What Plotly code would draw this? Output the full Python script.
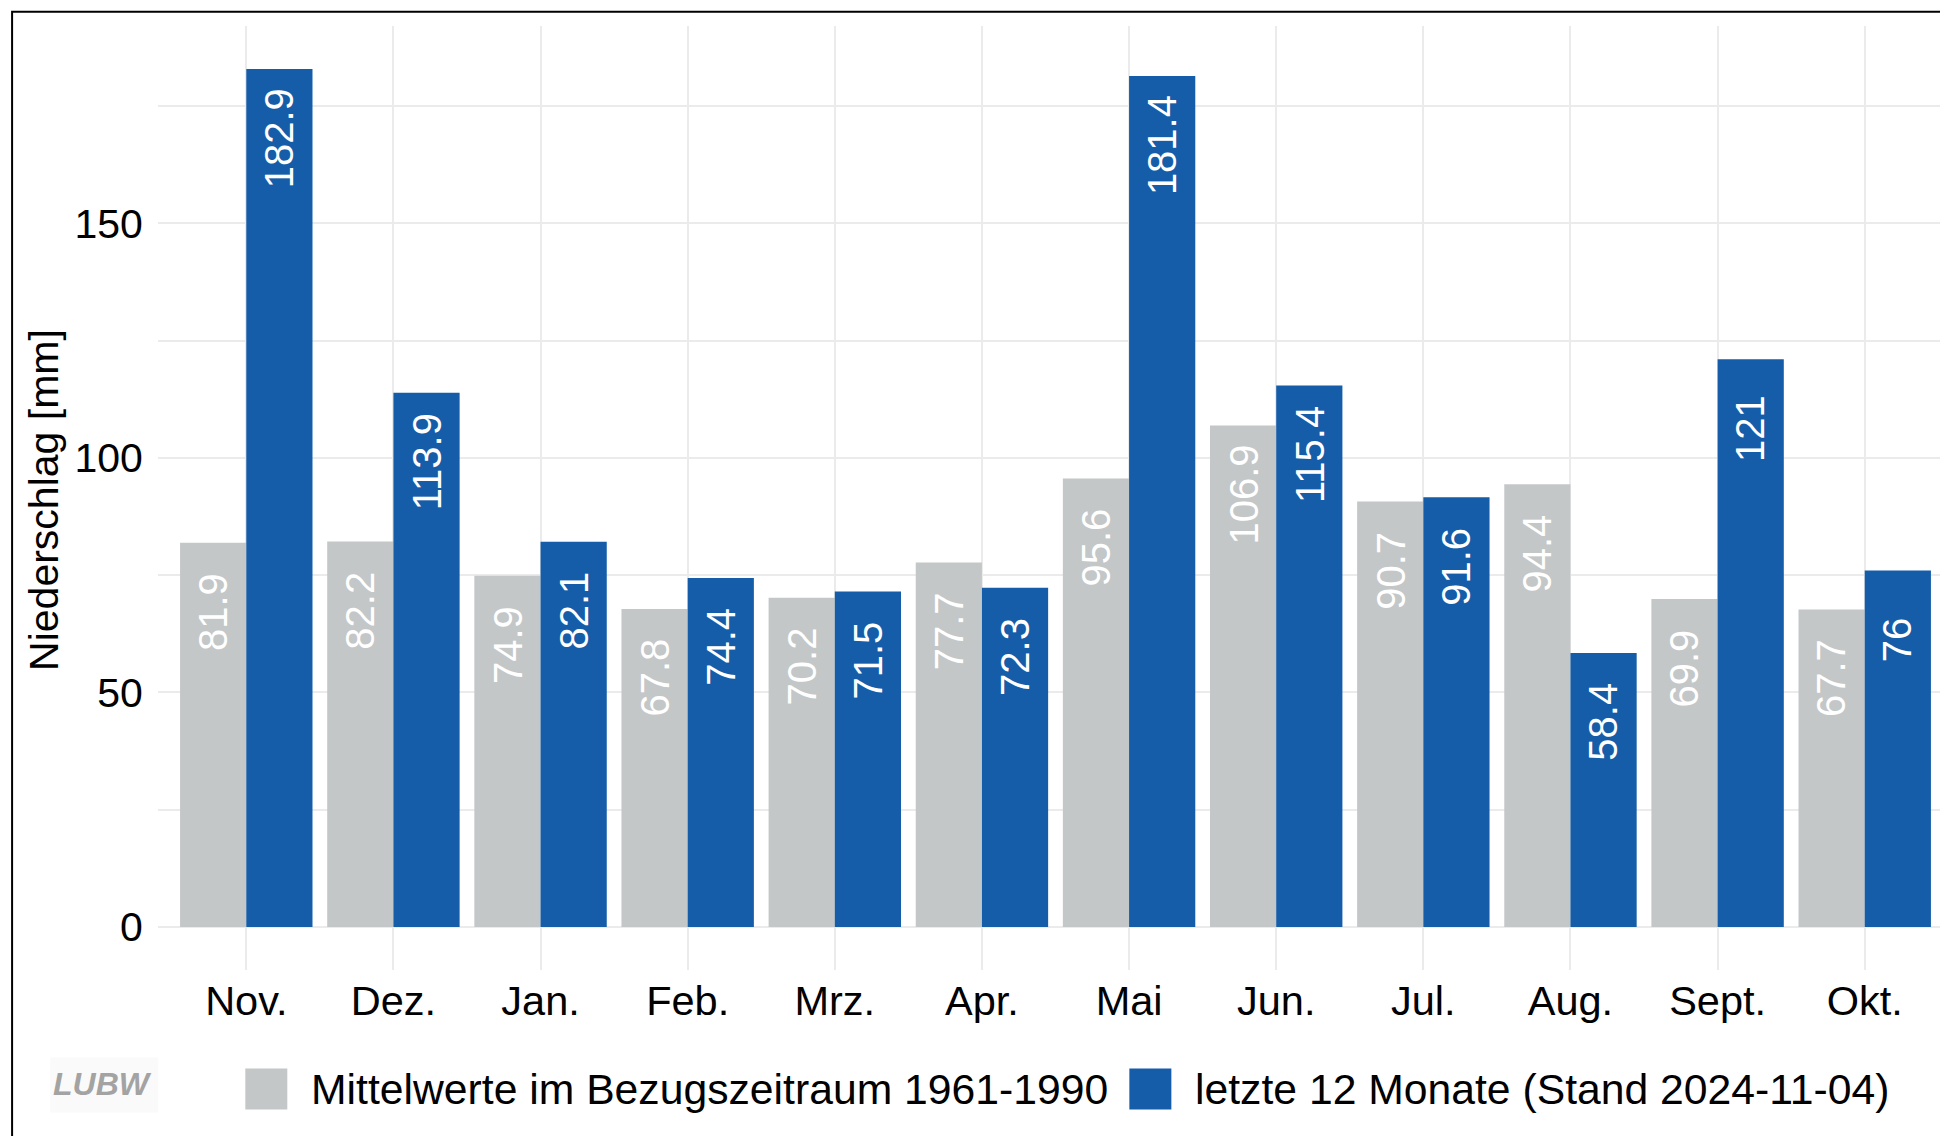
import plotly.graph_objects as go

# ---------------- data ----------------
months = ["Nov.", "Dez.", "Jan.", "Feb.", "Mrz.", "Apr.", "Mai", "Jun.",
          "Jul.", "Aug.", "Sept.", "Okt."]
mean_1961_1990 = [81.9, 82.2, 74.9, 67.8, 70.2, 77.7, 95.6, 106.9, 90.7, 94.4, 69.9, 67.7]
last_12_months = [182.9, 113.9, 82.1, 74.4, 71.5, 72.3, 181.4, 115.4, 91.6, 58.4, 121, 76]
series_names = ["Mittelwerte im Bezugszeitraum 1961-1990",
                "letzte 12 Monate (Stand 2024-11-04)"]
y_ticks = [0, 50, 100, 150]
y_minor_ticks = [25, 75, 125, 175]
y_title = "Niederschlag [mm]"

# ---------------- styling ----------------
W, H = 1948, 1136
GRAY = "#C4C7C8"
BLUE = "#155DA9"
GRID = "#EBEBEB"
FONT = "Liberation Sans, Arial, sans-serif"

OFF = 8           # page body margin: figure is drawn at (8, 8) in the page
L_PX = 157.7 - OFF      # left edge of plot area (figure coords)
R_PX = 1952.6 - OFF     # right edge of plot area
T_PX = 26.1 - OFF       # top edge of plot area
B_PX = 969.6 - OFF      # bottom edge of plot area
PLOT_W = R_PX - L_PX
PLOT_H = B_PX - T_PX


def px_x(p):
    """page pixel x -> paper coordinate"""
    return (p - OFF - L_PX) / PLOT_W


def px_y(p):
    """page pixel y -> paper coordinate"""
    return (B_PX - (p - OFF)) / PLOT_H


ymax = max(max(mean_1961_1990), max(last_12_months))
pad = 0.05 * ymax

fig = go.Figure()
fig.add_trace(go.Bar(x=months, y=mean_1961_1990, name=series_names[0],
                     marker=dict(color=GRAY, line=dict(width=0)), showlegend=False))
fig.add_trace(go.Bar(x=months, y=last_12_months, name=series_names[1],
                     marker=dict(color=BLUE, line=dict(width=0)), showlegend=False))

x_lo, x_hi = -0.6, len(months) - 1 + 0.6
unit_px = PLOT_W / (x_hi - x_lo)
half_off = 0.225 * unit_px

annotations = []
for series, sign in ((mean_1961_1990, -1), (last_12_months, 1)):
    for m, v in zip(months, series):
        annotations.append(dict(
            x=m, y=v, xref="x", yref="y", text=f"{v:g}", textangle=-90,
            showarrow=False, xanchor="center", yanchor="middle",
            xshift=sign * half_off, yshift=-69,
            font=dict(family=FONT, size=40, color="white")))

# y-axis title
annotations.append(dict(
    x=px_x(43.5), y=px_y(500), xref="paper", yref="paper", text=y_title,
    textangle=-90, showarrow=False, xanchor="center", yanchor="middle",
    font=dict(family=FONT, size=41, color="black")))

# legend (drawn manually for ggplot-sized keys)
leg_y = 1089
annotations.append(dict(
    x=px_x(309), y=px_y(leg_y), xref="paper", yref="paper", text=series_names[0],
    showarrow=False, xanchor="left", yanchor="middle",
    font=dict(family=FONT, size=42.7, color="black")))
annotations.append(dict(
    x=px_x(1193), y=px_y(leg_y), xref="paper", yref="paper", text=series_names[1],
    showarrow=False, xanchor="left", yanchor="middle",
    font=dict(family=FONT, size=42.7, color="black")))

# logo
annotations.append(dict(
    x=px_x(102), y=px_y(1084), xref="paper", yref="paper", text="LUBW",
    showarrow=False, xanchor="center", yanchor="middle",
    font=dict(family="Liberation Sans Narrow, Liberation Sans, Arial", size=32,
              color="#A3A3A3", weight="bold", style="italic")))

shapes = [
    # legend keys
    dict(type="rect", xref="paper", yref="paper", x0=px_x(245), x1=px_x(287),
         y0=px_y(1109), y1=px_y(1068), fillcolor=GRAY, line=dict(width=0)),
    dict(type="rect", xref="paper", yref="paper", x0=px_x(1129), x1=px_x(1171),
         y0=px_y(1109), y1=px_y(1068), fillcolor=BLUE, line=dict(width=0)),
    # logo background
    dict(type="rect", xref="paper", yref="paper", x0=px_x(50), x1=px_x(158),
         y0=px_y(1112), y1=px_y(1057), fillcolor="#FAFAFA", line=dict(width=0),
         layer="below"),
    # outer frame
    dict(type="rect", xref="paper", yref="paper", x0=px_x(11.8), x1=px_x(1990),
         y0=px_y(1180), y1=px_y(11.8), line=dict(color="black", width=2),
         fillcolor="rgba(0,0,0,0)"),
]

fig.update_layout(
    width=W, height=H,
    margin=dict(l=L_PX, r=W - R_PX, t=T_PX, b=H - B_PX, pad=0),
    paper_bgcolor="white", plot_bgcolor="white",
    barmode="group", bargap=0.1, bargroupgap=0,
    font=dict(family=FONT, color="black"),
    showlegend=False,
    annotations=annotations, shapes=shapes,
    xaxis=dict(
        type="category", range=[x_lo, x_hi],
        showgrid=True, gridcolor=GRID, gridwidth=2,
        ticks="", ticklabelstandoff=2,
        tickfont=dict(family=FONT, size=41.5, color="black"),
        showline=False, zeroline=False),
    yaxis=dict(
        range=[-pad, ymax + pad], tickvals=y_ticks, ticktext=[str(t) for t in y_ticks],
        showgrid=True, gridcolor=GRID, gridwidth=2,
        minor=dict(tickvals=y_minor_ticks, showgrid=True, gridcolor=GRID, gridwidth=1.5,
                   ticks=""),
        ticks="outside", ticklen=6, tickcolor="rgba(0,0,0,0)",
        tickfont=dict(family=FONT, size=41, color="black"),
        showline=False, zeroline=False),
)

fig.write_html("out.html")
